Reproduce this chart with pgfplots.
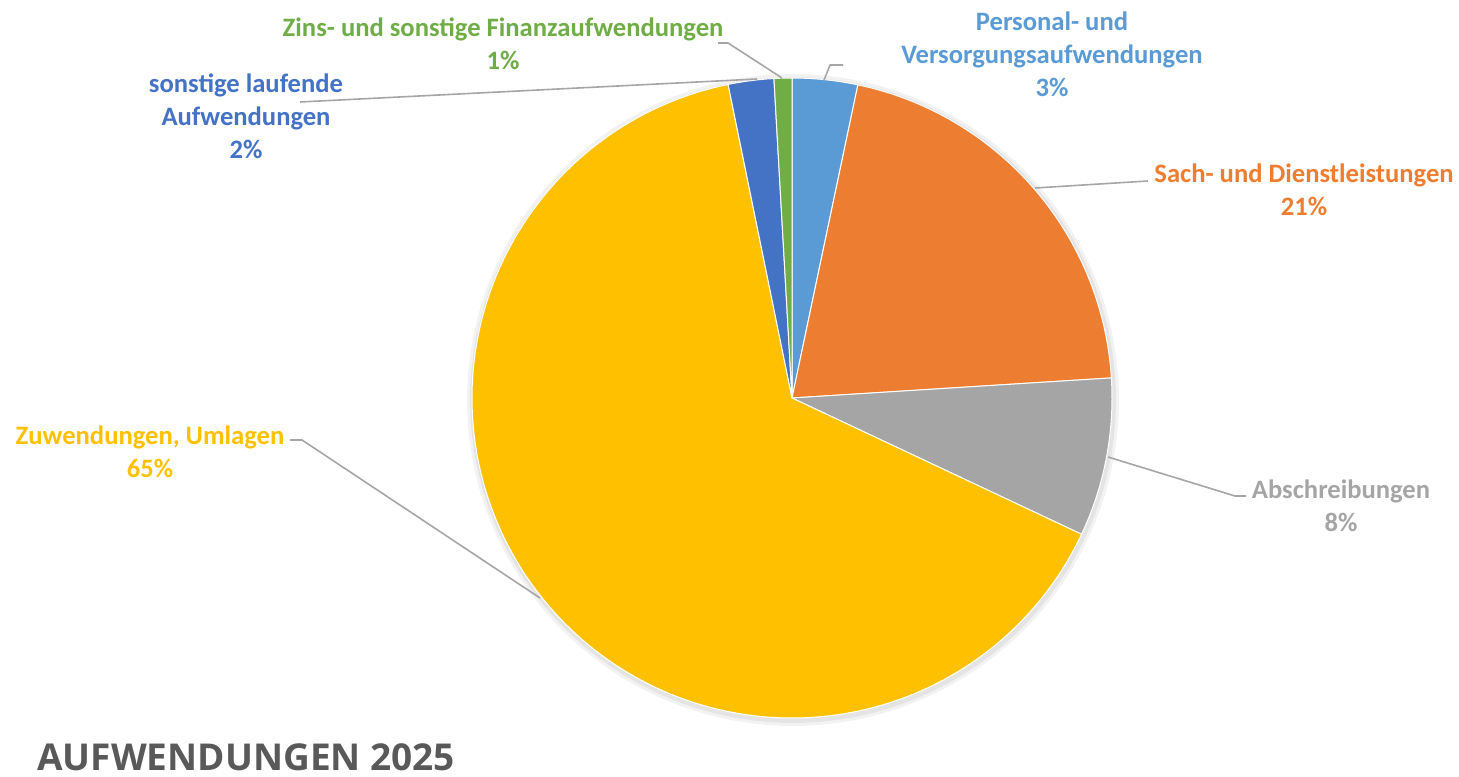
\documentclass[border=0pt]{standalone}
\usepackage{pgfplots}
\pgfplotsset{compat=1.18}
\usepackage{fontspec}
\setmainfont{Carlito}
\newfontfamily\titlefont{Open Sans}
\definecolor{cPers}{HTML}{5B9BD5}
\definecolor{cSach}{HTML}{ED7D31}
\definecolor{cAbs}{HTML}{A5A5A5}
\definecolor{cZuw}{HTML}{FFC000}
\definecolor{cSon}{HTML}{4472C4}
\definecolor{cZins}{HTML}{70AD47}
\definecolor{cLead}{HTML}{A6A6A6}
\definecolor{cTitle}{HTML}{595959}
\tikzset{lbl/.style={font=\fontsize{13.3pt}{16.5pt}\selectfont\bfseries, align=center, inner sep=0pt}}
% shares in percent (clockwise from 12 o'clock)
\def\vPers{3.3}
\def\vSach{20.7}
\def\vAbs{8.0}
\def\vZuw{64.8}
\def\vSon{2.3}
\def\vZins{0.9}
\pgfmathsetmacro\aA{0}
\pgfmathsetmacro\aB{\aA+3.6*\vPers}
\pgfmathsetmacro\aC{\aB+3.6*\vSach}
\pgfmathsetmacro\aD{\aC+3.6*\vAbs}
\pgfmathsetmacro\aE{\aD+3.6*\vZuw}
\pgfmathsetmacro\aF{\aE+3.6*\vSon}
\pgfmathsetmacro\aG{\aF+3.6*\vZins}
\def\cx{792}
\def\cy{-398}
\def\R{320}
\begin{document}
\begin{tikzpicture}
\begin{axis}[
  scale only axis, width=729.5pt, height=388pt,
  xmin=0, xmax=1459, ymin=-776, ymax=0,
  hide axis, clip=false,
]
\path[draw=none] (axis cs:0,0) rectangle (axis cs:1459,-776);
% soft shadow
\addplot[draw=none, fill=black, fill opacity=0.05, domain=0:360, samples=120] ({\cx+1+(\R+6)*sin(x)},{\cy-2+(\R+6)*cos(x)}) -- cycle;
\addplot[draw=none, fill=black, fill opacity=0.06, domain=0:360, samples=120] ({\cx+1+(\R+3)*sin(x)},{\cy-2+(\R+3)*cos(x)}) -- cycle;
% slices
\addplot[fill=cPers, draw=white, line width=0.5pt, domain=\aA:\aB, samples=20] ({\cx+\R*sin(x)},{\cy+\R*cos(x)}) -- (axis cs:\cx,\cy) -- cycle;
\addplot[fill=cSach, draw=white, line width=0.5pt, domain=\aB:\aC, samples=60] ({\cx+\R*sin(x)},{\cy+\R*cos(x)}) -- (axis cs:\cx,\cy) -- cycle;
\addplot[fill=cAbs, draw=white, line width=0.5pt, domain=\aC:\aD, samples=30] ({\cx+\R*sin(x)},{\cy+\R*cos(x)}) -- (axis cs:\cx,\cy) -- cycle;
\addplot[fill=cZuw, draw=white, line width=0.5pt, domain=\aD:\aE, samples=160] ({\cx+\R*sin(x)},{\cy+\R*cos(x)}) -- (axis cs:\cx,\cy) -- cycle;
\addplot[fill=cSon, draw=white, line width=0.5pt, domain=\aE:\aF, samples=10] ({\cx+\R*sin(x)},{\cy+\R*cos(x)}) -- (axis cs:\cx,\cy) -- cycle;
\addplot[fill=cZins, draw=white, line width=0.5pt, domain=\aF:\aG, samples=6] ({\cx+\R*sin(x)},{\cy+\R*cos(x)}) -- (axis cs:\cx,\cy) -- cycle;
% leader lines
\addplot[cLead, line width=0.8pt, no marks] coordinates {(843,-65) (830,-65) (824,-80)};
\addplot[cLead, line width=0.8pt, no marks] coordinates {(1035,-188) (1148,-181)};
\addplot[cLead, line width=0.8pt, no marks] coordinates {(1108,-457) (1235,-496) (1246,-496)};
\addplot[cLead, line width=0.8pt, no marks] coordinates {(290,-440) (302,-440) (540,-598)};
\addplot[cLead, line width=0.8pt, no marks] coordinates {(300,-102) (757,-79)};
\addplot[cLead, line width=0.8pt, no marks] coordinates {(718,-43) (728,-43) (782,-78)};
% labels
\node[lbl, text=cZins] at (axis cs:503,-44) {Zins- und sonstige Finanzaufwendungen\\1\%};
\node[lbl, text=cPers] at (axis cs:1052,-54) {Personal- und\\Versorgungsaufwendungen\\3\%};
\node[lbl, text=cSach] at (axis cs:1304,-190) {Sach- und Dienstleistungen\\21\%};
\node[lbl, text=cAbs] at (axis cs:1341,-506) {Abschreibungen\\8\%};
\node[lbl, text=cZuw] at (axis cs:150,-452) {Zuwendungen, Umlagen\\65\%};
\node[lbl, text=cSon] at (axis cs:246,-116) {sonstige laufende\\Aufwendungen\\2\%};
\node[anchor=base west, inner sep=0pt, text=cTitle, font=\titlefont\fontsize{18.5pt}{22pt}\selectfont\bfseries] at (axis cs:37,-770) {AUFWENDUNGEN 2025};
\end{axis}
\end{tikzpicture}
\end{document}
